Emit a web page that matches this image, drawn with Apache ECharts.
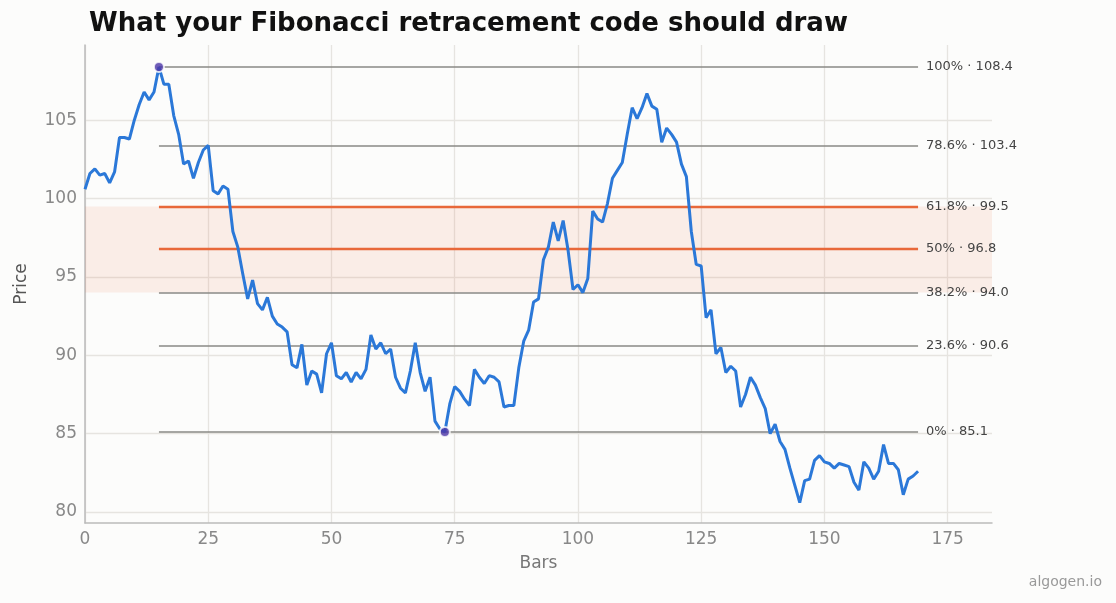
<!DOCTYPE html>
<html><head><meta charset="utf-8">
<script src="https://cdn.jsdelivr.net/npm/echarts@6/dist/echarts.min.js"></script>
<style>html,body{margin:0;background:#fcfcfb}#c{width:1116px;height:603px}</style>
</head><body><div id="c"></div>
<script>
const prices = [100.6,101.6,101.9,101.5,101.6,101.0,101.7,103.9,103.9,103.8,105.0,106.0,106.8,106.3,106.8,108.4,107.3,107.3,105.3,104.1,
102.2,102.4,101.3,102.3,103.1,103.4,100.5,100.3,100.8,100.6,97.9,96.9,95.2,93.6,94.8,93.3,92.9,93.7,92.5,92.0,
91.8,91.5,89.4,89.2,90.7,88.1,89.0,88.8,87.6,90.1,90.8,88.7,88.5,88.9,88.3,88.9,88.5,89.1,91.3,90.4,
90.8,90.1,90.4,88.6,87.9,87.6,89.0,90.8,88.9,87.7,88.6,85.8,85.3,85.1,86.9,88.0,87.7,87.2,86.8,89.1,
88.6,88.2,88.7,88.6,88.3,86.7,86.8,86.8,89.2,90.9,91.6,93.4,93.6,96.1,96.9,98.5,97.3,98.6,96.7,94.2,
94.5,94.0,94.9,99.2,98.7,98.5,99.7,101.3,101.8,102.3,104.1,105.8,105.1,105.8,106.7,105.9,105.7,103.6,104.5,104.1,
103.6,102.2,101.4,97.9,95.8,95.7,92.4,92.9,90.1,90.5,88.9,89.3,89.0,86.7,87.5,88.6,88.1,87.3,86.6,85.0,
85.6,84.5,84.0,82.8,81.7,80.6,82.0,82.1,83.3,83.6,83.2,83.1,82.8,83.1,83.0,82.9,81.9,81.4,83.2,82.8,
82.1,82.6,84.3,83.1,83.1,82.7,81.1,82.1,82.3,82.6];
const swingPoints = [[15,108.4],[73,85.1]];
const fibRatios = ['100%','78.6%','61.8%','50%','38.2%','23.6%','0%'];
const fibValues = [108.4,103.4,99.5,96.8,94.0,90.6,85.1];
const goldenZone = [94.0,99.5];
const xTicks = [0,25,50,75,100,125,150,175];
const yTicks = [80,85,90,95,100,105];
const levelStart = 15, levelEnd = 169;

const chart = echarts.init(document.getElementById('c'));
const mlData = fibRatios.map((r,i)=>{
  const gold = (r==='61.8%'||r==='50%');
  return [{coord:[levelStart,fibValues[i]],lineStyle:{color:gold?'#e8683a':'#8a8a86',width:gold?2.4:1.6,type:'solid'},
    label:{formatter:r+' · '+fibValues[i].toFixed(1)}},{coord:[levelEnd,fibValues[i]]}];
});
chart.setOption({
  backgroundColor:'#fcfcfb',
  animation:false,
  title:{text:'What your Fibonacci retracement code should draw',left:84,top:6,
    textStyle:{fontFamily:'DejaVu Sans',fontSize:26,fontWeight:'bold',color:'#111'}},
  graphic:[{type:'text',right:14,bottom:14,style:{text:'algogen.io',fill:'#999',font:'14px DejaVu Sans'}}],
  grid:{left:85,right:124,top:45,bottom:80},
  xAxis:{type:'value',min:0,max:184,name:'Bars',nameLocation:'middle',nameGap:32,
    nameTextStyle:{fontFamily:'DejaVu Sans',fontSize:17,color:'#777'},
    axisLine:{lineStyle:{color:'#bbb',width:1.5}},axisTick:{show:false,customValues:xTicks},
    axisLabel:{fontFamily:'DejaVu Sans',fontSize:17,color:'#888',customValues:xTicks},
    splitLine:{show:true,lineStyle:{color:'#e6e4e0',width:1.3}}},
  yAxis:{type:'value',min:79.3,max:109.8,name:'Price',nameLocation:'middle',nameGap:55,
    nameTextStyle:{fontFamily:'DejaVu Sans',fontSize:17,color:'#555'},
    axisLine:{show:true,lineStyle:{color:'#bbb',width:1.5}},axisTick:{show:false,customValues:yTicks},
    axisLabel:{fontFamily:'DejaVu Sans',fontSize:17,color:'#888',customValues:yTicks},
    splitLine:{show:true,lineStyle:{color:'#e6e4e0',width:1.3}}},
  series:[
    {type:'line',data:prices.map((v,i)=>[i,v]),showSymbol:false,lineStyle:{color:'#2b78d8',width:3},z:5,
     markArea:{silent:true,itemStyle:{color:'rgba(232,104,58,0.1)'},data:[[{yAxis:goldenZone[0]},{yAxis:goldenZone[1]}]]},
     markLine:{silent:true,symbol:'none',label:{show:true,position:'end',distance:8,fontFamily:'DejaVu Sans',fontSize:13,color:'#444'},
       data:mlData,z:3}},
    {type:'scatter',data:swingPoints,symbolSize:10,itemStyle:{color:'#4b35a8',borderColor:'#fff',borderWidth:2},z:10}
  ]
});
</script></body></html>
